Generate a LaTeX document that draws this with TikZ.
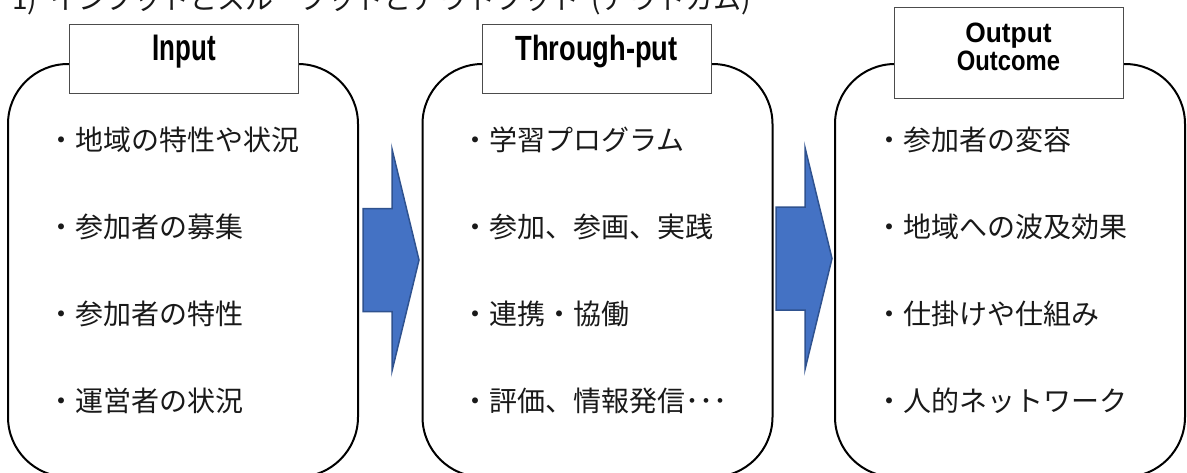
\documentclass[tikz,border=0pt]{standalone}
\usepackage{fontspec}
\newfontfamily\jpfont{Noto Sans CJK JP}
\newfontfamily\labfont{Liberation Sans}
\definecolor{arrowfill}{HTML}{4472C4}
\definecolor{arrowline}{HTML}{2F528F}
\begin{document}
\begin{tikzpicture}[x=1pt,y=-1pt,
  bigbox/.style={draw=black, line width=2pt, rounded corners=60pt, minimum width=350pt, minimum height=413pt, inner sep=0pt},
  labbox/.style={draw=black!70, line width=1pt, fill=white, minimum width=229pt, inner xsep=0pt, inner ysep=0pt, font=\labfont\bfseries},
  item/.style={anchor=west, inner sep=0pt, text=black!90, font=\jpfont\fontsize{28pt}{34pt}\selectfont},
  blockarrow/.style={fill=arrowfill, draw=arrowline, line width=1.5pt, line join=miter}
]
\useasboundingbox (0,0) rectangle (1187,472);
\clip (0,0) rectangle (1187,472);

% title (partly cut off at the top)
\node[anchor=base west, inner sep=0pt, text=black!90, font=\jpfont\fontsize{28pt}{34pt}\selectfont] (title) at (12,9)
  {1)\hspace{13pt}インプットとスループットとアウトプット\hspace{12pt}(アウトカム)};

% big rounded boxes
\node[bigbox] (b1) at (183,270.5) {};
\node[bigbox] (b2) at (597.5,270.5) {};
\node[bigbox] (b3) at (1010,270.5) {};

% label boxes
\node[labbox, text height=36pt, text depth=33pt, anchor=north] (l1) at (184,24)
  {\scalebox{0.70}[1]{\fontsize{37pt}{37pt}\selectfont Input}};
\node[labbox, text height=36pt, text depth=33pt, anchor=north] (l2) at (596.5,24)
  {\scalebox{0.78}[1]{\fontsize{35pt}{35pt}\selectfont Through-put}};
\node[labbox, text height=63pt, text depth=28pt, anchor=north] (l3) at (1008.5,7)
  {\fontsize{28pt}{28pt}\selectfont\setlength\tabcolsep{0pt}\begin{tabular}[b]{c}\scalebox{0.94}[1]{Output}\\\scalebox{0.85}[1]{Outcome}\end{tabular}};

% block arrows
\coordinate (a1) at (363,260);
\coordinate (a2) at (776,258.5);
\foreach \a in {a1,a2}{
  \draw[blockarrow] ([shift={(0,-51.5)}]\a) -- ++(29,0) -- ++(0,-59.5)
    -- ([shift={(56,0)}]\a) -- ([shift={(29,111)}]\a) -- ++(0,-59.5)
    -- ([shift={(0,51.5)}]\a) -- cycle;
}

% items
\node[item] (t11) at (47,140) {・地域の特性や状況};
\node[item] (t12) at (47,227) {・参加者の募集};
\node[item] (t13) at (47,314) {・参加者の特性};
\node[item] (t14) at (47,401) {・運営者の状況};

\node[item] (t21) at (461,140) {・学習プログラム};
\node[item] (t22) at (461,227) {・参加、参画、実践};
\node[item] (t23) at (461,314) {・連携・協働};
\node[item] (t24) at (461,401) {・評価、情報発信･･･};

\node[item] (t31) at (875,140) {・参加者の変容};
\node[item] (t32) at (875,227) {・地域への波及効果};
\node[item] (t33) at (875,314) {・仕掛けや仕組み};
\node[item] (t34) at (875,401) {・人的ネットワーク};
\end{tikzpicture}
\end{document}
